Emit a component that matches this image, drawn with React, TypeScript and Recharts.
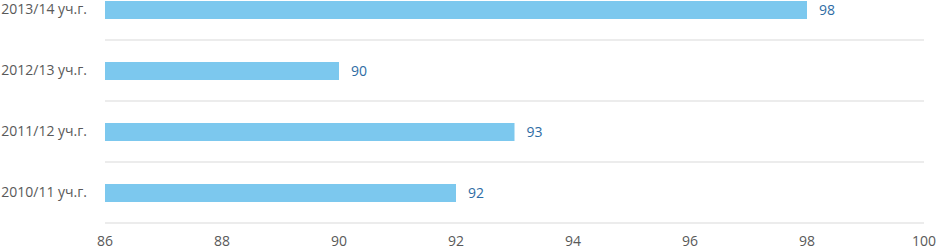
import React from "react";
import { BarChart, Bar, XAxis, YAxis, CartesianGrid, LabelList } from "recharts";

const categories = ["2013/14 уч.г.", "2012/13 уч.г.", "2011/12 уч.г.", "2010/11 уч.г."];
const values = [98, 90, 93, 92];
const xTicks = [86, 88, 90, 92, 94, 96, 98, 100];

const data = categories.map((c, i) => ({ name: c, value: values[i] }));

const FONT = "'Open Sans', 'Noto Sans', sans-serif";

export default function App() {
  return (
    <div style={{ position: "absolute", left: 0, top: -21, width: 937, height: 272 }}>
      <BarChart
        width={937}
        height={272}
        data={data}
        layout="vertical"
        margin={{ top: 0, right: 13, bottom: 0, left: 0 }}
        barCategoryGap={0}
      >
        <CartesianGrid
          vertical={false}
          stroke="#d9d9d9"
          horizontalCoordinatesGenerator={({ offset }: any) =>
            [1, 2, 3, 4].map((i) => offset.top + (i * offset.height) / 4)
          }
        />
        <XAxis
          type="number"
          domain={[86, 100]}
          ticks={xTicks}
          axisLine={false}
          tickLine={false}
          height={28}
          tickMargin={7}
          tick={{ fill: "#595959", fontSize: 14, fontFamily: FONT }}
          interval={0}
        />
        <YAxis
          type="category"
          dataKey="name"
          width={105}
          axisLine={false}
          tickLine={false}
          tickMargin={12}
          tick={{ fill: "#595959", fontSize: 14, fontFamily: FONT }}
        />
        <Bar dataKey="value" fill="#7cc8ee" barSize={18} isAnimationActive={false}>
          <LabelList
            dataKey="value"
            position="right"
            offset={12}
            style={{ fill: "#2e6ca4", fontSize: 14, fontFamily: FONT }}
          />
        </Bar>
      </BarChart>
    </div>
  );
}
